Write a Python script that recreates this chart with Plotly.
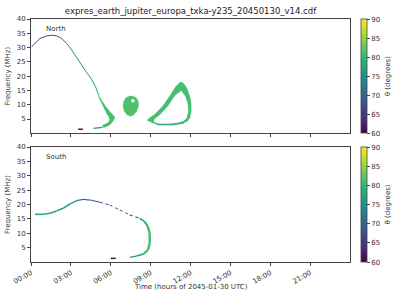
import plotly.graph_objects as go
from plotly.colors import sample_colorscale

# ---------------- data ----------------
title_text = "expres_earth_jupiter_europa_txka-y235_20450130_v14.cdf"
tick_hours = [0, 3, 6, 9, 12, 15, 18, 21]
tick_labels = ["00:00", "03:00", "06:00", "09:00", "12:00", "15:00", "18:00", "21:00"]
freq_ticks = [5, 10, 15, 20, 25, 30, 35, 40]
theta_ticks = [60, 65, 70, 75, 80, 85, 90]

# North hemisphere: thin arc (time h, freq MHz, theta deg)
n_arc_t = [0.05, 0.18, 0.68, 1.18, 1.55, 1.93, 2.30, 2.68, 3.05, 3.55, 4.05, 4.50, 4.85, 5.10]
n_arc_f = [30.4, 30.9, 33.2, 34.1, 34.3, 34.1, 33.2, 31.5, 29.2, 25.7, 22.2, 19.3, 16.4, 13.2]
n_arc_th = [67, 67, 67, 67, 67, 67, 68, 74, 75, 75, 75, 76, 77, 79]

# North band (outline)
n_band_t = [5.06, 5.18, 5.30, 5.63, 6.05, 6.30, 6.25, 6.05, 5.93, 5.63, 5.40, 5.40, 5.78, 5.93, 5.85, 5.68, 5.42, 5.18]
n_band_f = [13.0, 12.7, 11.65, 9.3, 7.0, 5.8, 4.65, 3.7, 2.9, 2.2, 2.0, 2.9, 3.7, 4.65, 5.8, 7.0, 9.3, 11.65]
n_band_th = 81

# North low-frequency dashes
n_low_t = [4.70, 5.00, 5.30, 5.50]
n_low_f = [1.75, 1.90, 2.05, 2.15]
n_low_th = 76
n_purple_t = [3.55, 3.90]
n_purple_f = [1.4, 1.4]
n_purple_th = 61

# North blob
n_blob_t = [7.50, 7.80, 8.00, 8.10, 8.08, 7.95, 7.70, 7.45, 7.20, 7.00, 6.92, 6.98, 7.15]
n_blob_f = [13.1, 12.8, 12.0, 10.8, 9.3, 7.6, 6.3, 6.0, 6.6, 7.8, 9.5, 11.2, 12.5]
n_blob_th = 81.5
n_hole_t = [7.67]
n_hole_f = [11.4]

# North loop: outer and inner outlines
n_loop_out_t = [11.25, 11.50, 11.75, 11.95, 12.05, 12.05, 11.95, 11.75, 11.40, 10.70, 9.70, 9.20, 8.75, 8.85, 9.30, 9.90, 10.50, 10.90]
n_loop_out_f = [18.0, 17.4, 15.6, 13.0, 10.5, 7.5, 5.3, 4.1, 3.5, 2.95, 2.9, 3.5, 4.5, 5.2, 6.6, 9.5, 13.5, 16.5]
n_loop_in_t = [11.30, 11.60, 11.78, 11.82, 11.70, 11.45, 11.00, 10.40, 9.60, 9.25, 9.30, 9.70, 10.30, 10.85]
n_loop_in_f = [14.8, 13.0, 10.5, 7.5, 5.3, 4.3, 3.7, 3.4, 3.4, 4.0, 5.0, 6.4, 9.5, 13.2]
n_loop_th = 81
n_loop_bot_t = [9.45, 9.8, 10.7, 11.2, 11.5]
n_loop_bot_f = [3.15, 3.0, 3.0, 3.3, 3.6]
n_loop_bot_th = 78

# South hemisphere
s_arc_t = [0.30, 0.92, 1.43, 1.93, 2.42, 2.93, 3.43, 3.92, 4.55, 5.18, 5.93, 6.68, 7.43, 8.18, 8.55, 8.80, 8.93, 8.93, 8.80, 8.43, 7.93, 7.43]
s_arc_f = [16.6, 16.6, 16.95, 17.8, 18.7, 20.2, 21.35, 21.8, 21.5, 20.8, 19.85, 18.1, 16.4, 15.2, 14.05, 12.3, 10.0, 6.5, 4.2, 2.7, 2.1, 1.67]
s_arc_th = [78, 78, 78, 77, 76, 75, 73, 68, 67, 67, 67, 68, 71, 76, 79, 81, 81, 81, 80, 77, 76, 76]
s_arc_w = [1.6, 1.6, 1.6, 1.6, 1.5, 1.3, 1.2, 1.2, 1.0, 1.0, 1.0, 1.0, 1.2, 1.5, 2, 2.5, 2.5, 2.5, 2, 1.5, 1.3, 1.3]
s_arc_dash = ["solid", "solid", "solid", "solid", "solid", "solid", "solid", "dash", "dash", "dot", "dot", "dot", "dot", "solid", "solid", "solid", "solid", "solid", "solid", "dash", "dash", "dash"]
s_purple_t = [6.0, 6.38]
s_purple_f = [1.3, 1.3]
s_purple_th = 61

# ---------------- helpers ----------------
CMIN, CMAX = 60, 90


def vcol(th):
    return sample_colorscale("Viridis", [(th - CMIN) / (CMAX - CMIN)])[0]


fig = go.Figure()


def seg_line(t, f, th, row, widths=None, dashes=None):
    xa, ya = ("x", "y") if row == 1 else ("x2", "y2")
    for i in range(len(t) - 1):
        fig.add_trace(go.Scatter(
            x=[t[i], t[i + 1]], y=[f[i], f[i + 1]], mode="lines",
            line=dict(color=vcol(th[i]), width=(widths[i] if widths else 1.0),
                      dash=(dashes[i] if dashes else "solid")),
            xaxis=xa, yaxis=ya, showlegend=False, hoverinfo="skip"))


def line(t, f, th, row, width=1.5, dash="solid"):
    xa, ya = ("x", "y") if row == 1 else ("x2", "y2")
    fig.add_trace(go.Scatter(x=t, y=f, mode="lines",
                             line=dict(color=vcol(th), width=width, dash=dash),
                             xaxis=xa, yaxis=ya, showlegend=False, hoverinfo="skip"))


def poly(t, f, color, row):
    xa, ya = ("x", "y") if row == 1 else ("x2", "y2")
    fig.add_trace(go.Scatter(x=t + t[:1], y=f + f[:1], mode="lines", fill="toself",
                             fillcolor=color, line=dict(color=color, width=0.3),
                             xaxis=xa, yaxis=ya, showlegend=False, hoverinfo="skip"))


# North
seg_line(n_arc_t, n_arc_f, n_arc_th, 1)
poly(n_band_t, n_band_f, vcol(n_band_th), 1)
line(n_low_t, n_low_f, n_low_th, 1, width=1.2, dash="dash")
line(n_purple_t, n_purple_f, n_purple_th, 1, width=1.5)
poly(n_blob_t, n_blob_f, vcol(n_blob_th), 1)
fig.add_trace(go.Scatter(x=n_hole_t, y=n_hole_f, mode="markers",
                         marker=dict(symbol="square", size=3, color="white"),
                         xaxis="x", yaxis="y", showlegend=False, hoverinfo="skip"))
poly(n_loop_out_t, n_loop_out_f, vcol(n_loop_th), 1)
poly(n_loop_in_t, n_loop_in_f, "white", 1)
line(n_loop_bot_t, n_loop_bot_f, n_loop_bot_th, 1, width=1.2)

# South
seg_line(s_arc_t, s_arc_f, s_arc_th, 2, widths=s_arc_w, dashes=s_arc_dash)
line(s_purple_t, s_purple_f, s_purple_th, 2, width=1.5)

# colorbar carriers
for ca, ya, xa in (("coloraxis", "y", "x"), ("coloraxis2", "y2", "x2")):
    fig.add_trace(go.Scatter(x=[-5], y=[-5], mode="markers",
                             marker=dict(color=[75], coloraxis=ca, size=1),
                             xaxis=xa, yaxis=ya, showlegend=False, hoverinfo="skip"))

# ---------------- layout ----------------
W, H = 400, 300
x0, x1 = 31 / W, 350 / W
top_dom = [1 - 133.3 / H, 1 - 19 / H]
bot_dom = [1 - 262.1 / H, 1 - 147 / H]
FONT = "DejaVu Sans"
AX = "#444"
TXT = dict(size=7, color="#333", family=FONT)

axis_common = dict(showgrid=False, zeroline=False, showline=True, mirror=True,
                   linecolor=AX, linewidth=0.8, ticks="outside", ticklen=3,
                   tickwidth=0.8, tickcolor=AX, tickfont=TXT, automargin=False)


def cbar(dom):
    return dict(colorscale="Viridis", cmin=CMIN, cmax=CMAX,
                colorbar=dict(x=361 / W, xanchor="left", xref="paper", xpad=0, ypad=0,
                              y=(dom[0] + dom[1]) / 2, yanchor="middle", yref="paper",
                              len=dom[1] - dom[0], lenmode="fraction",
                              thickness=6, thicknessmode="pixels",
                              outlinewidth=0.8, outlinecolor=AX,
                              tickvals=theta_ticks, ticks="outside", ticklen=3, tickwidth=0.8,
                              tickcolor=AX, tickfont=TXT, title=dict(text="")))


fig.update_layout(
    width=W, height=H, margin=dict(l=0, r=0, t=0, b=0),
    paper_bgcolor="white", plot_bgcolor="white",
    font=dict(family=FONT, color="#333"),
    title=dict(text=title_text, x=190.5 / W, xanchor="center", y=1 - 11 / H, yanchor="middle",
               font=dict(size=8.5, color="#222", family=FONT)),
    xaxis=dict(axis_common, domain=[x0, x1], range=[0, 24], anchor="y",
               tickvals=tick_hours, ticktext=tick_labels, showticklabels=False),
    yaxis=dict(axis_common, domain=top_dom, range=[0, 40], anchor="x", tickvals=freq_ticks,
               title=dict(text="Frequency (MHz)", font=TXT, standoff=5)),
    xaxis2=dict(axis_common, domain=[x0, x1], range=[0, 24], anchor="y2",
                tickvals=tick_hours, ticktext=tick_labels, tickangle=-30),
    yaxis2=dict(axis_common, domain=bot_dom, range=[0, 40], anchor="x2", tickvals=freq_ticks,
                title=dict(text="Frequency (MHz)", font=TXT, standoff=5)),
    coloraxis=cbar(top_dom),
    coloraxis2=cbar(bot_dom),
    annotations=[
        dict(text="North", x=1.0, y=36.6, xref="x", yref="y", xanchor="left", yanchor="middle",
             showarrow=False, font=TXT),
        dict(text="South", x=1.0, y=36.6, xref="x2", yref="y2", xanchor="left", yanchor="middle",
             showarrow=False, font=TXT),
        dict(text="Time (hours of 2045-01-30 UTC)", x=(x0 + x1) / 2, y=1 - 287 / H,
             xref="paper", yref="paper", xanchor="center", yanchor="middle",
             showarrow=False, font=TXT),
        dict(text="θ (degrees)", x=388 / W, y=(top_dom[0] + top_dom[1]) / 2,
             xref="paper", yref="paper", xanchor="center", yanchor="middle", textangle=-90,
             showarrow=False, font=TXT),
        dict(text="θ (degrees)", x=388 / W, y=(bot_dom[0] + bot_dom[1]) / 2,
             xref="paper", yref="paper", xanchor="center", yanchor="middle", textangle=-90,
             showarrow=False, font=TXT),
    ],
)

fig.write_html("out.html")
